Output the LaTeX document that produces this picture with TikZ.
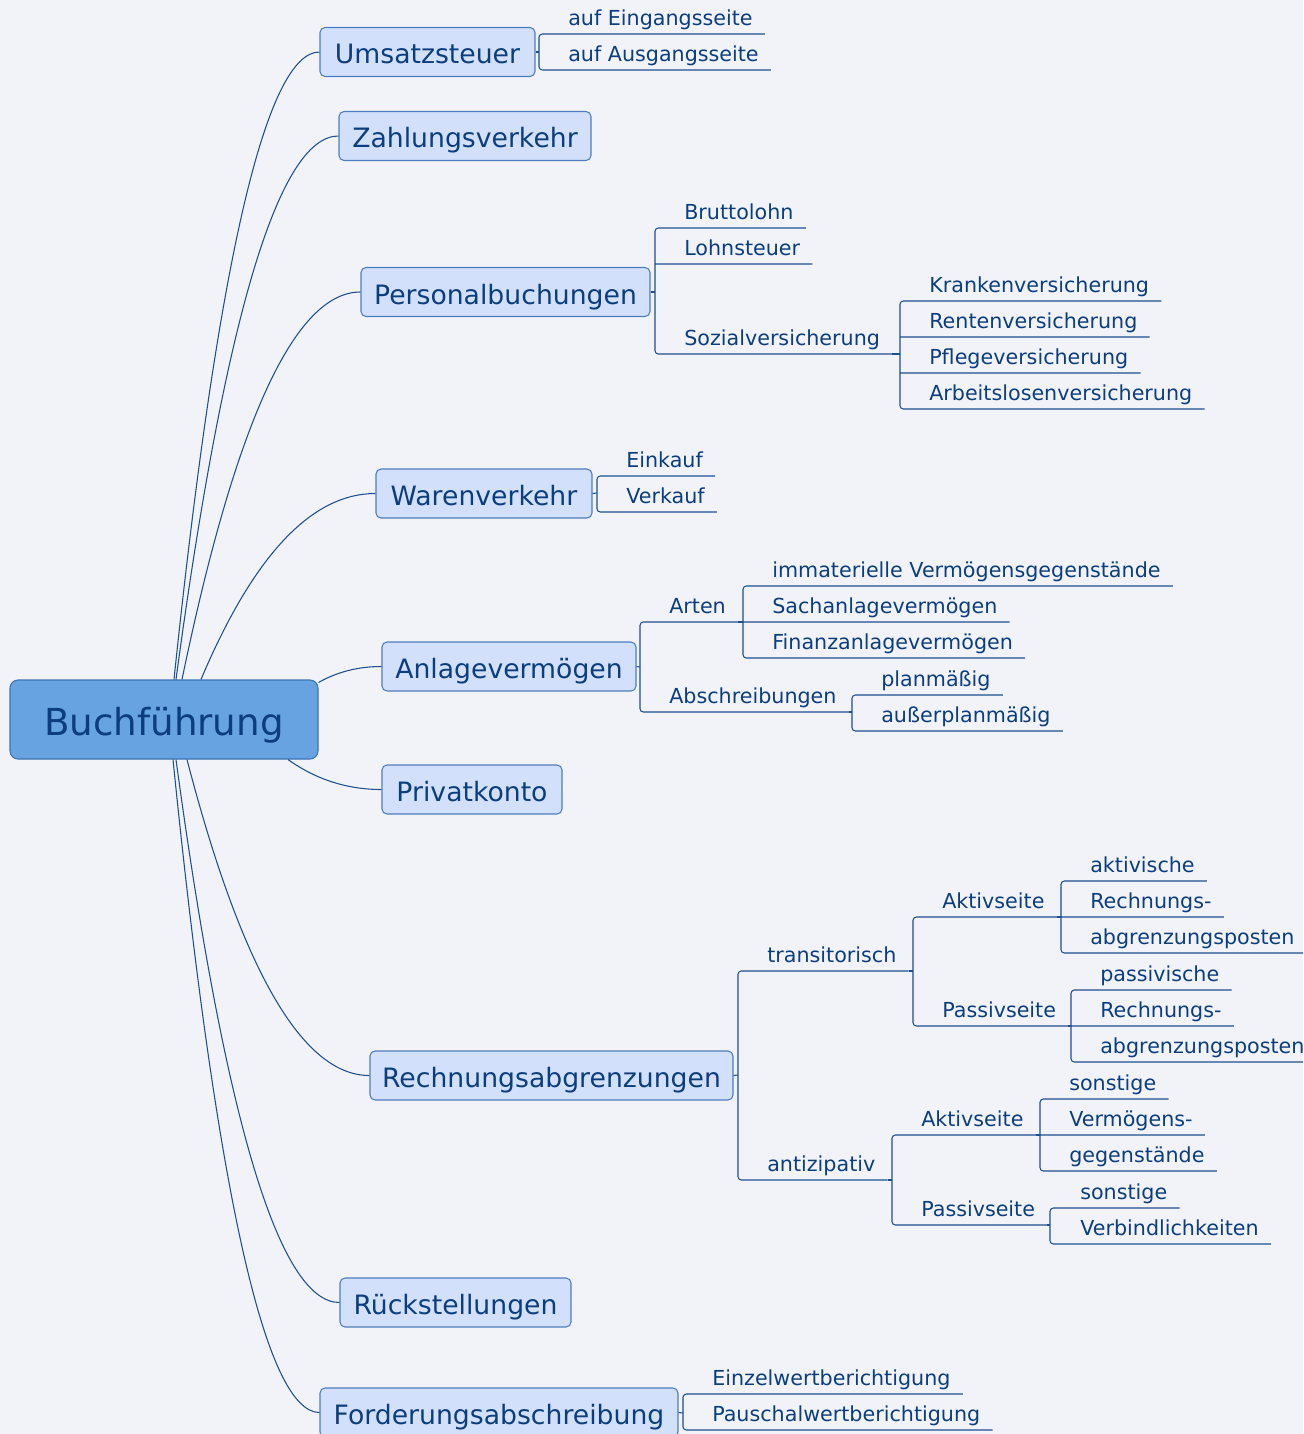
\documentclass[tikz,border=0pt]{standalone}
\usepackage{fontspec}
\setmainfont{DejaVu Sans}
\usetikzlibrary{calc}
\definecolor{bgc}{HTML}{F2F3F9}
\definecolor{txt}{HTML}{0C3E7E}
\definecolor{linec}{HTML}{1E4F8E}
\definecolor{boxfill}{HTML}{D2E0FC}
\definecolor{boxdraw}{HTML}{4F7DBB}
\definecolor{rootfill}{HTML}{67A3E0}
\definecolor{rootdraw}{HTML}{3E73B3}
\newcommand\leaffont{\fontsize{15.5pt}{18pt}\selectfont}
\newcommand\boxfont{\fontsize{20pt}{24pt}\selectfont}
\newcommand\rootfont{\fontsize{27.9pt}{32pt}\selectfont}
\newcommand\mmcurve[2]{%
  \coordinate (mmS) at (#1); \coordinate (mmE) at (#2);
  \coordinate (mmH) at ($(mmS)!0.45!(mmE)$);
  \coordinate (mmC) at (mmH |- mmE);
  \draw[conn] (mmS) .. controls ($(mmS)!0.6667!(mmC)$) and ($(mmE)!0.6667!(mmC)$) .. (mmE);}
\newcommand\mmbracket[3]{%
  \draw[conn, rounded corners=2.5pt] ([xshift=9pt]#2.south east) -- (#2.south -| #1) -- (#3.south -| #1) -- ([xshift=9pt]#3.south east);}
\newcommand\mmbracketm[4]{%
  \draw[conn, rounded corners=2.5pt] ([xshift=9pt]#2.south east) -- (#2.south -| #1) -- (#4.south -| #1) -- ([xshift=9pt]#4.south east)
    \foreach \mm in {#3} {(\mm.south -| #1) -- ([xshift=9pt]\mm.south east)};}
\newcommand\mmext[2]{\draw[conn] ([xshift=9pt]#1.south east) -- (#1.south -| #2);}
\begin{document}
\begin{tikzpicture}[x=0.75pt,y=-0.75pt,
  conn/.style={draw=linec, line width=0.8pt},
  topic/.style={draw=boxdraw, fill=boxfill, line width=0.8pt, rounded corners=3.75pt,
    font=\boxfont, text=txt, minimum height=36.75pt, minimum width=#1*0.75pt,
    inner sep=0pt, text height=19pt, text depth=1pt},
  rootbox/.style={draw=rootdraw, fill=rootfill, line width=0.8pt, rounded corners=6pt,
    font=\rootfont, text=txt, minimum height=59.25pt, minimum width=231pt,
    inner sep=0pt, text height=25pt, text depth=1pt},
  leaf/.style={font=\leaffont, text=txt, inner sep=0pt, text depth=6pt, anchor=south west}]
\useasboundingbox (0,0) rectangle (1303,1434);
\clip (0,0) rectangle (1303,1434);
\fill[bgc] (0,0) rectangle (1303,1434);

% root and main topics
\node[rootbox] (root) at (164,719.5) {Buchführung};
\node[topic=215] (umsatz) at (427.5,52) {Umsatzsteuer};
\node[topic=252] (zahlung) at (465,136) {Zahlungsverkehr};
\node[topic=289] (personal) at (505.5,292) {Personalbuchungen};
\node[topic=216] (waren) at (484,493.5) {Warenverkehr};
\node[topic=254] (anlage) at (509,666.5) {Anlagevermögen};
\node[topic=180] (privat) at (472,789.5) {Privatkonto};
\node[topic=363] (rechnung) at (551.5,1075.5) {Rechnungsabgrenzungen};
\node[topic=231] (rueck) at (455.5,1302.5) {Rückstellungen};
\node[topic=358] (forder) at (499,1412.5) {Forderungsabschreibung};

% curves from root
\mmcurve{$(root.north)+(10,0)$}{umsatz.west}
\mmcurve{$(root.north)+(12,0)$}{zahlung.west}
\mmcurve{$(root.north)+(18,0)$}{personal.west}
\mmcurve{$(root.north)+(37,0)$}{waren.west}
\mmcurve{$(root.north east)+(0,3)$}{anlage.west}
\mmcurve{$(root.south)+(124,0)$}{privat.west}
\mmcurve{$(root.south)+(23,0)$}{rechnung.west}
\mmcurve{$(root.south)+(12,0)$}{rueck.west}
\mmcurve{$(root.south)+(9,0)$}{forder.west}

% bracket coordinates
\coordinate (vus) at (539,52);
\coordinate (vpb) at (655,292);
\coordinate (vsv) at (900,354);
\coordinate (vwv) at (597,493);
\coordinate (vav) at (640,667);
\coordinate (var) at (743,622);
\coordinate (vab) at (852,712);
\coordinate (vra) at (738,1075);
\coordinate (vtr) at (913,971);
\coordinate (vaT) at (1061,917);
\coordinate (vpT) at (1071,1026);
\coordinate (van) at (892,1180);
\coordinate (vaA) at (1040,1135);
\coordinate (vpA) at (1050,1225);
\coordinate (vfa) at (683,1413);

% leaves
\node[leaf] (ein) at (568,34) {auf Eingangsseite};
\node[leaf] (aus) at (568,70) {auf Ausgangsseite};

\node[leaf] (brutto) at (684,228) {Bruttolohn};
\node[leaf] (lohnst) at (684,264) {Lohnsteuer};
\node[leaf] (sozial) at (684,354) {Sozialversicherung};
\node[leaf] (kv) at (929,301) {Krankenversicherung};
\node[leaf] (rv) at (929,337) {Rentenversicherung};
\node[leaf] (pv) at (929,373) {Pflegeversicherung};
\node[leaf] (av) at (929,409) {Arbeitslosenversicherung};

\node[leaf] (einkauf) at (626,476) {Einkauf};
\node[leaf] (verkauf) at (626,512) {Verkauf};

\node[leaf] (arten) at (669,622) {Arten};
\node[leaf] (abschr) at (669,712) {Abschreibungen};
\node[leaf] (imm) at (772,586) {immaterielle Vermögensgegenstände};
\node[leaf] (sach) at (772,622) {Sachanlagevermögen};
\node[leaf] (fin) at (772,658) {Finanzanlagevermögen};
\node[leaf] (plan) at (881,695) {planmäßig};
\node[leaf] (ausser) at (881,731) {außerplanmäßig};

\node[leaf] (trans) at (767,971) {transitorisch};
\node[leaf] (anti) at (767,1180) {antizipativ};
\node[leaf] (aktT) at (942,917) {Aktivseite};
\node[leaf] (pasT) at (942,1026) {Passivseite};
\node[leaf] (akta) at (1090,881) {aktivische};
\node[leaf] (aktb) at (1090,917) {Rechnungs-};
\node[leaf] (aktc) at (1090,953) {abgrenzungsposten};
\node[leaf] (pasa) at (1100,990) {passivische};
\node[leaf] (pasb) at (1100,1026) {Rechnungs-};
\node[leaf] (pasc) at (1100,1062) {abgrenzungsposten};
\node[leaf] (aktA) at (921,1135) {Aktivseite};
\node[leaf] (pasA) at (921,1225) {Passivseite};
\node[leaf] (sona) at (1069,1099) {sonstige};
\node[leaf] (verm) at (1069,1135) {Vermögens-};
\node[leaf] (geg) at (1069,1171) {gegenstände};
\node[leaf] (sonb) at (1080,1208) {sonstige};
\node[leaf] (verb) at (1080,1244) {Verbindlichkeiten};

\node[leaf] (einz) at (712,1394) {Einzelwertberichtigung};
\node[leaf] (pausch) at (712,1430) {Pauschalwertberichtigung};

% stubs from topic boxes
\draw[conn] (umsatz.east) -- (vus);
\draw[conn] (personal.east) -- (vpb);
\draw[conn] (waren.east) -- (vwv);
\draw[conn] (anlage.east) -- (vav);
\draw[conn] (rechnung.east) -- (vra);
\draw[conn] (forder.east) -- (vfa);

% brackets
\mmbracket{vus}{ein}{aus}
\mmbracketm{vpb}{brutto}{lohnst}{sozial}
\mmext{sozial}{vsv}
\mmbracketm{vsv}{kv}{rv,pv}{av}
\mmbracket{vwv}{einkauf}{verkauf}
\mmbracket{vav}{arten}{abschr}
\mmext{arten}{var}
\mmext{abschr}{vab}
\mmbracketm{var}{imm}{sach}{fin}
\mmbracket{vab}{plan}{ausser}
\mmbracket{vra}{trans}{anti}
\mmext{trans}{vtr}
\mmext{anti}{van}
\mmbracket{vtr}{aktT}{pasT}
\mmext{aktT}{vaT}
\mmext{pasT}{vpT}
\mmbracketm{vaT}{akta}{aktb}{aktc}
\mmbracketm{vpT}{pasa}{pasb}{pasc}
\mmbracket{van}{aktA}{pasA}
\mmext{aktA}{vaA}
\mmext{pasA}{vpA}
\mmbracketm{vaA}{sona}{verm}{geg}
\mmbracket{vpA}{sonb}{verb}
\mmbracket{vfa}{einz}{pausch}
\end{tikzpicture}
\end{document}
